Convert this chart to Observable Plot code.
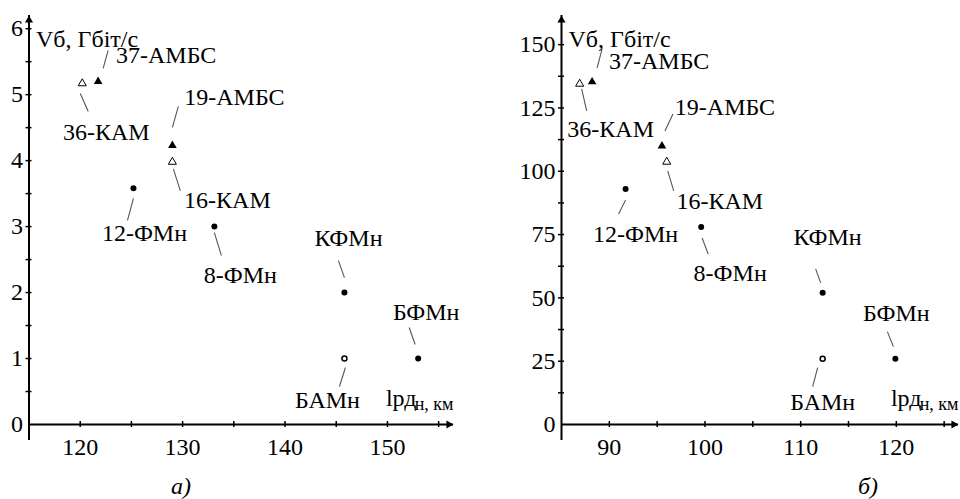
<!DOCTYPE html>
<html><head><meta charset="utf-8">
<script src="https://cdn.jsdelivr.net/npm/d3@7"></script>
<script src="https://cdn.jsdelivr.net/npm/@observablehq/plot@0.6"></script>
<style>
body{margin:0;background:#fff;font-family:"Liberation Serif","Times New Roman",serif;}
#wrap{position:relative;width:960px;height:499px;overflow:hidden;}
#row{display:flex;}
svg, svg text, svg g{font-family:"Liberation Serif","Times New Roman",serif !important;}
.cap{position:absolute;top:472px;font-style:italic;font-size:24px;line-height:28px;}
</style></head><body>
<div id="wrap"><div id="row"></div>
<div class="cap" style="left:171px">а)</div>
<div class="cap" style="left:858px">б)</div>
</div>
<script>
// ---- data ----
const schemes = ["36-КАМ","37-АМБС","19-АМБС","16-КАМ","12-ФМн","8-ФМн","КФМн","БАМн","БФМн"];
const family  = ["КАМ","АМБС","АМБС","КАМ","ФМн","ФМн","ФМн","АМн","ФМн"];
const rangeA = [120.2, 121.75, 129.0, 129.0, 125.2, 133.1, 145.8, 145.8, 153.0];
const rateA  = [5.17, 5.2, 4.23, 3.98, 3.58, 3.0, 2.0, 1.0, 1.0];
const rangeB = [86.9, 88.2, 95.5, 96.0, 91.7, 99.6, 112.3, 112.3, 119.9];
const rateB  = [134.5, 135.3, 110, 103.7, 93, 78, 52, 26, 26];
const xTicksA = [120, 130, 140, 150];
const yTicksA = [0, 1, 2, 3, 4, 5, 6];
const xMinorA = [120, 125, 130, 135, 140, 145, 150, 155];
const yMinorA = [0.5, 1, 1.5, 2, 2.5, 3, 3.5, 4, 4.5, 5, 5.5, 6];
const xTicksB = [90, 100, 110, 120];
const yTicksB = [0, 25, 50, 75, 100, 125, 150];
const xMinorB = [90, 95, 100, 105, 110, 115, 120, 125];
const yMinorB = [12.5, 25, 37.5, 50, 62.5, 75, 87.5, 100, 112.5, 125, 137.5, 150];
const yTitle = "Vб, Гбіт/с";
const xTitleMain = "lрд", xTitleSub = "н, км";

// ---- layout (pixel offsets of leader start, leader end, label centre) ----
const layoutA = [
  [-2,10, 6,28, 24,49], [5,-13, 10,-31, 68,-26], [0,-18, 6,-39, 62,-48], [1,7, 8,29, 55,38],
  [0,10, -6,32, 11,45], [0,6, 7,29, 26,49], [-6,-32, 0,-15, 4,-54], [1,9, -5,28, -17,42], [-9,-31, -3,-14, 8,-46]
];
const layoutB = [
  [2,5, 7,27, 31,45], [5,-14, 10,-33, 67,-21], [3,-15, 11,-32, 63,-39], [1,9, 7,29, 53,39],
  [0,11, -7,25, 10,45], [1,11, 7,27, 29,46], [-7,-24, -2,-10, 5,-55], [-5,9, -10,28, 0,44], [-8,-27, -2,-12, 1,-45]
];
const FONT = "Liberation Serif, Times New Roman, serif";

function panel({xs, ys, xDomain, yDomain, xRange, yRange, xTicks, yTicks, xMinor, yMinor, layout}) {
  const W = 480, H = 462;
  const sx = d3.scaleLinear(xDomain, xRange), sy = d3.scaleLinear(yDomain, yRange);
  const pts = schemes.map((name, i) => ({name, fam: family[i], x: xs[i], y: ys[i], l: layout[i]}));
  const px = (d, o) => sx.invert(sx(d.x) + o);
  const py = (d, o) => sy.invert(sy(d.y) + o);
  const x0 = xDomain[0], x1 = xDomain[1], y0 = yDomain[0], y1 = yDomain[1];
  return Plot.plot({
    width: W, height: H,
    marginLeft: xRange[0], marginRight: W - xRange[1], marginTop: yRange[1], marginBottom: H - yRange[0],
    x: {domain: xDomain, range: xRange},
    y: {domain: yDomain, range: yRange},
    style: {fontFamily: FONT, fontSize: "24px", background: "white", color: "black", overflow: "visible"},
    marks: [
      Plot.ruleY([y0], {x1: x0, x2: x1, stroke: "black", strokeWidth: 2}),
      Plot.ruleX([x0], {y1: sy.invert(yRange[0] + 16), y2: y1, stroke: "black", strokeWidth: 2}),
      Plot.ruleX(xMinor, {x: d => d, y1: y0, y2: y0, insetTop: -3, insetBottom: -3, stroke: "black", strokeWidth: 1.5}),
      Plot.ruleY(yMinor, {y: d => d, x1: x0, x2: x0, insetLeft: -3, insetRight: -3, stroke: "black", strokeWidth: 1.5}),
      Plot.dot([0], {x: x1, y: y0, symbol: "triangle", r: 3, fill: "black", rotate: 90, dx: -4.7}),
      Plot.dot([0], {x: x0, y: y1, symbol: "triangle", r: 3, fill: "black", dy: 4.7}),
      Plot.axisX({ticks: xTicks, tickSize: 0, tickPadding: 13, label: null, fontSize: 24, fontFamily: FONT, tickFormat: d3.format("d")}),
      Plot.axisY({ticks: yTicks, tickSize: 0, tickPadding: 6, label: null, fontSize: 24, fontFamily: FONT, tickFormat: d3.format("d")}),
      Plot.link(pts, {x1: d => px(d, d.l[0]), y1: d => py(d, d.l[1]), x2: d => px(d, d.l[2]), y2: d => py(d, d.l[3]), stroke: "#555", strokeWidth: 1.1}),
      Plot.dot(pts.filter(d => d.fam === "АМБС"), {x: "x", y: "y", symbol: "triangle", r: 3.2, fill: "black"}),
      Plot.dot(pts.filter(d => d.fam === "КАМ"), {x: "x", y: "y", symbol: "triangle", r: 3, fill: "white", stroke: "black", strokeWidth: 1}),
      Plot.dot(pts.filter(d => d.fam === "ФМн"), {x: "x", y: "y", r: 3, fill: "black"}),
      Plot.dot(pts.filter(d => d.fam === "АМн"), {x: "x", y: "y", r: 2.5, fill: "white", stroke: "black", strokeWidth: 1.5}),
      Plot.text(pts, {x: d => px(d, d.l[4]), y: d => py(d, d.l[5]), text: "name", fontSize: 24, fontFamily: FONT, fill: "black"}),
      Plot.text([yTitle], {frameAnchor: "top-left", text: d => d, textAnchor: "start", dx: 7, dy: 14, fontSize: 24, fontFamily: FONT, fill: "black"}),
      Plot.text([xTitleMain], {x: x1, y: y0, text: d => d, textAnchor: "end", dx: -37, dy: -26, fontSize: 24, fontFamily: FONT, fill: "black"}),
      Plot.text([xTitleSub], {x: x1, y: y0, text: d => d, textAnchor: "end", dx: 0, dy: -20, fontSize: 18, fontFamily: FONT, fill: "black"})
    ]
  });
}

const row = document.getElementById("row");
row.append(panel({xs: rangeA, ys: rateA, xDomain: [115, 156.45], yDomain: [0, 6.2], xRange: [28.5, 453], yRange: [424, 15],
  xTicks: xTicksA, yTicks: yTicksA, xMinor: xMinorA, yMinor: yMinorA, layout: layoutA}));
row.append(panel({xs: rangeB, ys: rateB, xDomain: [85, 126.5], yDomain: [0, 161.5], xRange: [81, 478], yRange: [424, 15],
  xTicks: xTicksB, yTicks: yTicksB, xMinor: xMinorB, yMinor: yMinorB, layout: layoutB}));
</script>
</body></html>
